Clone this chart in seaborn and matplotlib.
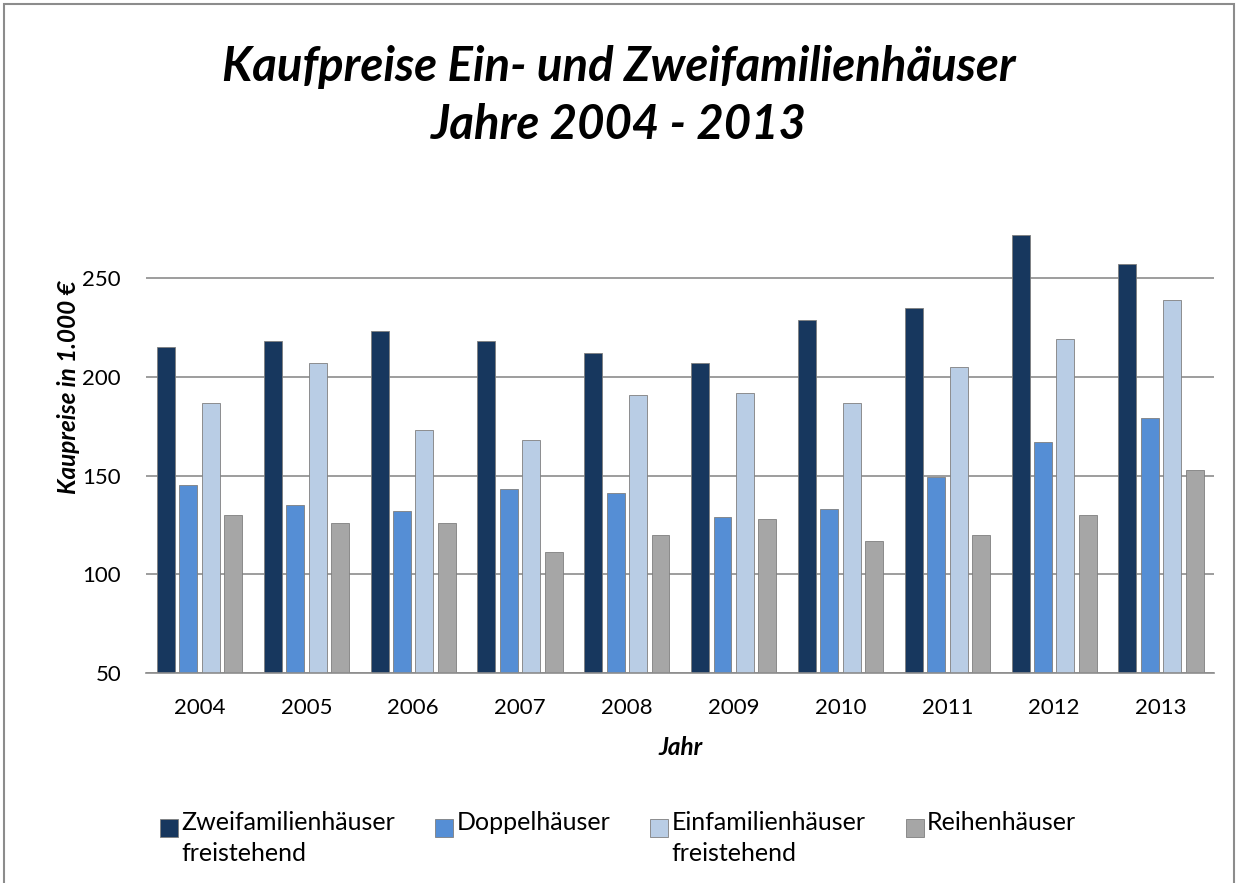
import pandas as pd
import seaborn as sns
import matplotlib.pyplot as plt
from matplotlib.patches import Rectangle
from matplotlib.legend_handler import HandlerPatch

# data (1.000 EUR)
years = ["2004", "2005", "2006", "2007", "2008", "2009", "2010", "2011", "2012", "2013"]
zweifam = [215, 218, 223, 218, 212, 207, 229, 235, 272, 257]
doppel = [145, 135, 132, 143, 141, 129, 133, 149, 167, 179]
einfam = [187, 207, 173, 168, 191, 192, 187, 205, 219, 239]
reihen = [130, 126, 126, 111, 120, 128, 117, 120, 130, 153]

series = ["Zweifamilienhäuser\nfreistehend", "Doppelhäuser",
          "Einfamilienhäuser\nfreistehend", "Reihenhäuser"]
colors = ["#17375E", "#558ED5", "#B9CDE5", "#A6A6A6"]

rows = []
for name, vals in zip(series, [zweifam, doppel, einfam, reihen]):
    for y, v in zip(years, vals):
        rows.append({"Jahr": y, "Preis": v, "Typ": name})
df = pd.DataFrame(rows)

sns.set_theme(style="white")
plt.rcParams['font.family'] = ['Lato', 'DejaVu Sans']
plt.rcParams['text.color'] = 'black'
plt.rcParams['axes.labelcolor'] = 'black'

fig = plt.figure(figsize=(12.38, 8.83), dpi=100)
ax = fig.add_axes([0.118, 0.238, 0.863, 0.514])

sns.barplot(data=df, x="Jahr", y="Preis", hue="Typ", hue_order=series,
            palette=colors, saturation=1, width=0.84, gap=0.2,
            edgecolor="#7f7f7f", linewidth=0.6, ax=ax, legend=True)

ax.set_ylim(50, 280)
ax.set_yticks([50, 100, 150, 200, 250])
ax.yaxis.grid(True, color="#8c8c8c", linewidth=1.2)
ax.set_axisbelow(True)
for s in ["top", "right", "left"]:
    ax.spines[s].set_visible(False)
ax.spines["bottom"].set_color("#8c8c8c")
ax.spines["bottom"].set_linewidth(1.2)
ax.tick_params(axis="both", labelsize=16, colors="black", length=0)
ax.tick_params(axis="y", pad=18)
ax.tick_params(axis="x", pad=18)

ax.set_xlabel("Jahr", fontsize=17.5, fontweight="bold", style="italic", labelpad=13)
ax.set_ylabel("Kaupreise in 1.000 €", fontsize=17.5, fontweight="bold", style="italic")
ax.yaxis.set_label_coords(-0.062, 0.63)

fig.suptitle("Kaufpreise Ein- und Zweifamilienhäuser\nJahre 2004 - 2013",
             fontsize=34, fontweight="bold", style="italic", y=0.949, linespacing=1.38)


# small square at the top of the legend entry, next to the first text line
def top_square(legend, orig_handle, xdescent, ydescent, width, height, fontsize):
    size = 0.72 * fontsize
    return Rectangle((-xdescent, -ydescent + height - size * 1.05), size, size)


handles, labels = ax.get_legend_handles_labels()
ax.get_legend().remove()
labels = [l if "\n" in l else l + "\n " for l in labels]
fig.legend(handles, labels, loc="upper left", bbox_to_anchor=(0.1215, 0.0925), ncol=4,
           frameon=False, fontsize=18, handlelength=0.75, handleheight=2.3,
           handletextpad=0.1, columnspacing=1.6, borderaxespad=0,
           labelspacing=0, handler_map={h: HandlerPatch(patch_func=top_square) for h in handles})
plt.setp(fig.legends[0].get_texts(), linespacing=1.4)

fig.patches.append(Rectangle((0.003, -0.05), 0.994, 1.046, transform=fig.transFigure,
                             fill=False, edgecolor="#8c8c8c", linewidth=1.5))

fig.savefig("out.png", dpi=100)
